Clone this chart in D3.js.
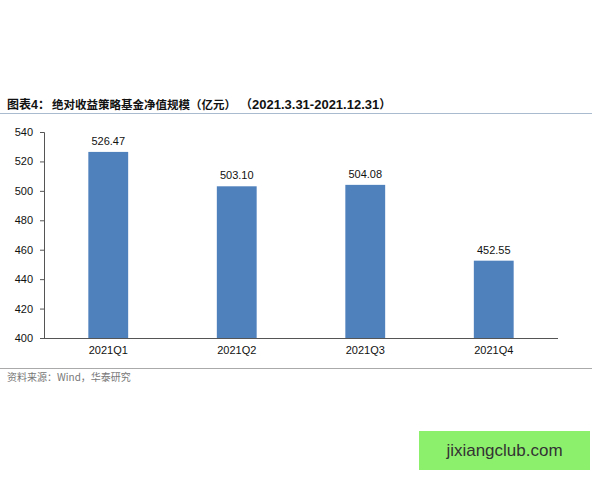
<!DOCTYPE html>
<html><head><meta charset="utf-8">
<script src="https://cdn.jsdelivr.net/npm/d3@7/dist/d3.min.js"></script>
<style>body{margin:0;background:#fff;}svg{display:block;}</style>
</head><body>
<svg id="c" width="600" height="480"></svg>
<script>
const categories = ["2021Q1","2021Q2","2021Q3","2021Q4"];
const values = [526.47, 503.10, 504.08, 452.55];
const valueLabels = ["526.47","503.10","504.08","452.55"];
const yTicks = [400,420,440,460,480,500,520,540];

const svg = d3.select("#c");
const font = "'Liberation Sans', Arial, sans-serif";
const cjk = "'Noto Sans CJK SC', sans-serif";

// title
const t = svg.append("text").attr("y",109).attr("font-weight","bold").attr("fill","#111");
t.append("tspan").attr("x",7).attr("font-family",cjk).attr("font-size",12).text("图表");
t.append("tspan").attr("font-family",font).attr("font-size",12.5).text("4");
t.append("tspan").attr("font-family",cjk).attr("font-size",12).text("：");
t.append("tspan").attr("x",52).attr("font-family",cjk).attr("font-size",11.5).text("绝对收益策略基金净值规模（亿元）");
t.append("tspan").attr("x",240).attr("font-family",cjk).attr("font-size",12).text("（");
t.append("tspan").attr("font-family",font).attr("font-size",13).text("2021.3.31-2021.12.31");
t.append("tspan").attr("font-family",cjk).attr("font-size",12).text("）");
svg.append("line").attr("x1",0).attr("x2",592).attr("y1",113.5).attr("y2",113.5)
  .attr("stroke","#a9bccf").attr("stroke-width",1.2);

const x = d3.scaleBand().domain(categories).range([44,558]).paddingInner(0.69).paddingOuter(0.345);
const y = d3.scaleLinear().domain([400,540]).range([338,132]);

svg.selectAll("rect.bar").data(values).enter().append("rect")
  .attr("x",(d,i)=>x(categories[i])).attr("width",x.bandwidth())
  .attr("y",d=>y(d)).attr("height",d=>y(400)-y(d))
  .attr("fill","#4f81bd");

svg.selectAll("text.v").data(values).enter().append("text")
  .attr("x",(d,i)=>x(categories[i])+x.bandwidth()/2).attr("y",d=>y(d)-7)
  .attr("text-anchor","middle").attr("font-family",font).attr("font-size",11).attr("fill","#111")
  .text((d,i)=>valueLabels[i]);

const ya = svg.append("g").attr("transform","translate(44,0)")
  .call(d3.axisLeft(y).tickValues(yTicks).tickSize(4).tickPadding(7));
ya.selectAll("text").attr("font-family",font).attr("font-size",11).attr("fill","#111");
ya.selectAll("line,path").attr("stroke","#555");

const xa = svg.append("g").attr("transform","translate(0,338)")
  .call(d3.axisBottom(x).tickSize(0).tickPadding(8));
xa.selectAll("text").attr("font-family",font).attr("font-size",11).attr("fill","#111");
xa.select("path").attr("d","M44,0.5H558").attr("stroke","#555");

svg.append("line").attr("x1",0).attr("x2",592).attr("y1",368.5).attr("y2",368.5)
  .attr("stroke","#aaa").attr("stroke-width",1);
svg.append("text").attr("x",7).attr("y",381).attr("font-size",10).attr("fill","#777")
  .attr("font-family",cjk).text("资料来源：Wind，华泰研究");

svg.append("rect").attr("x",419).attr("y",431).attr("width",171).attr("height",39).attr("fill","#8df06d");
svg.append("text").attr("x",504.5).attr("y",456).attr("text-anchor","middle")
  .attr("font-family",font).attr("font-size",17).attr("fill","#333").text("jixiangclub.com");
</script>
</body></html>
